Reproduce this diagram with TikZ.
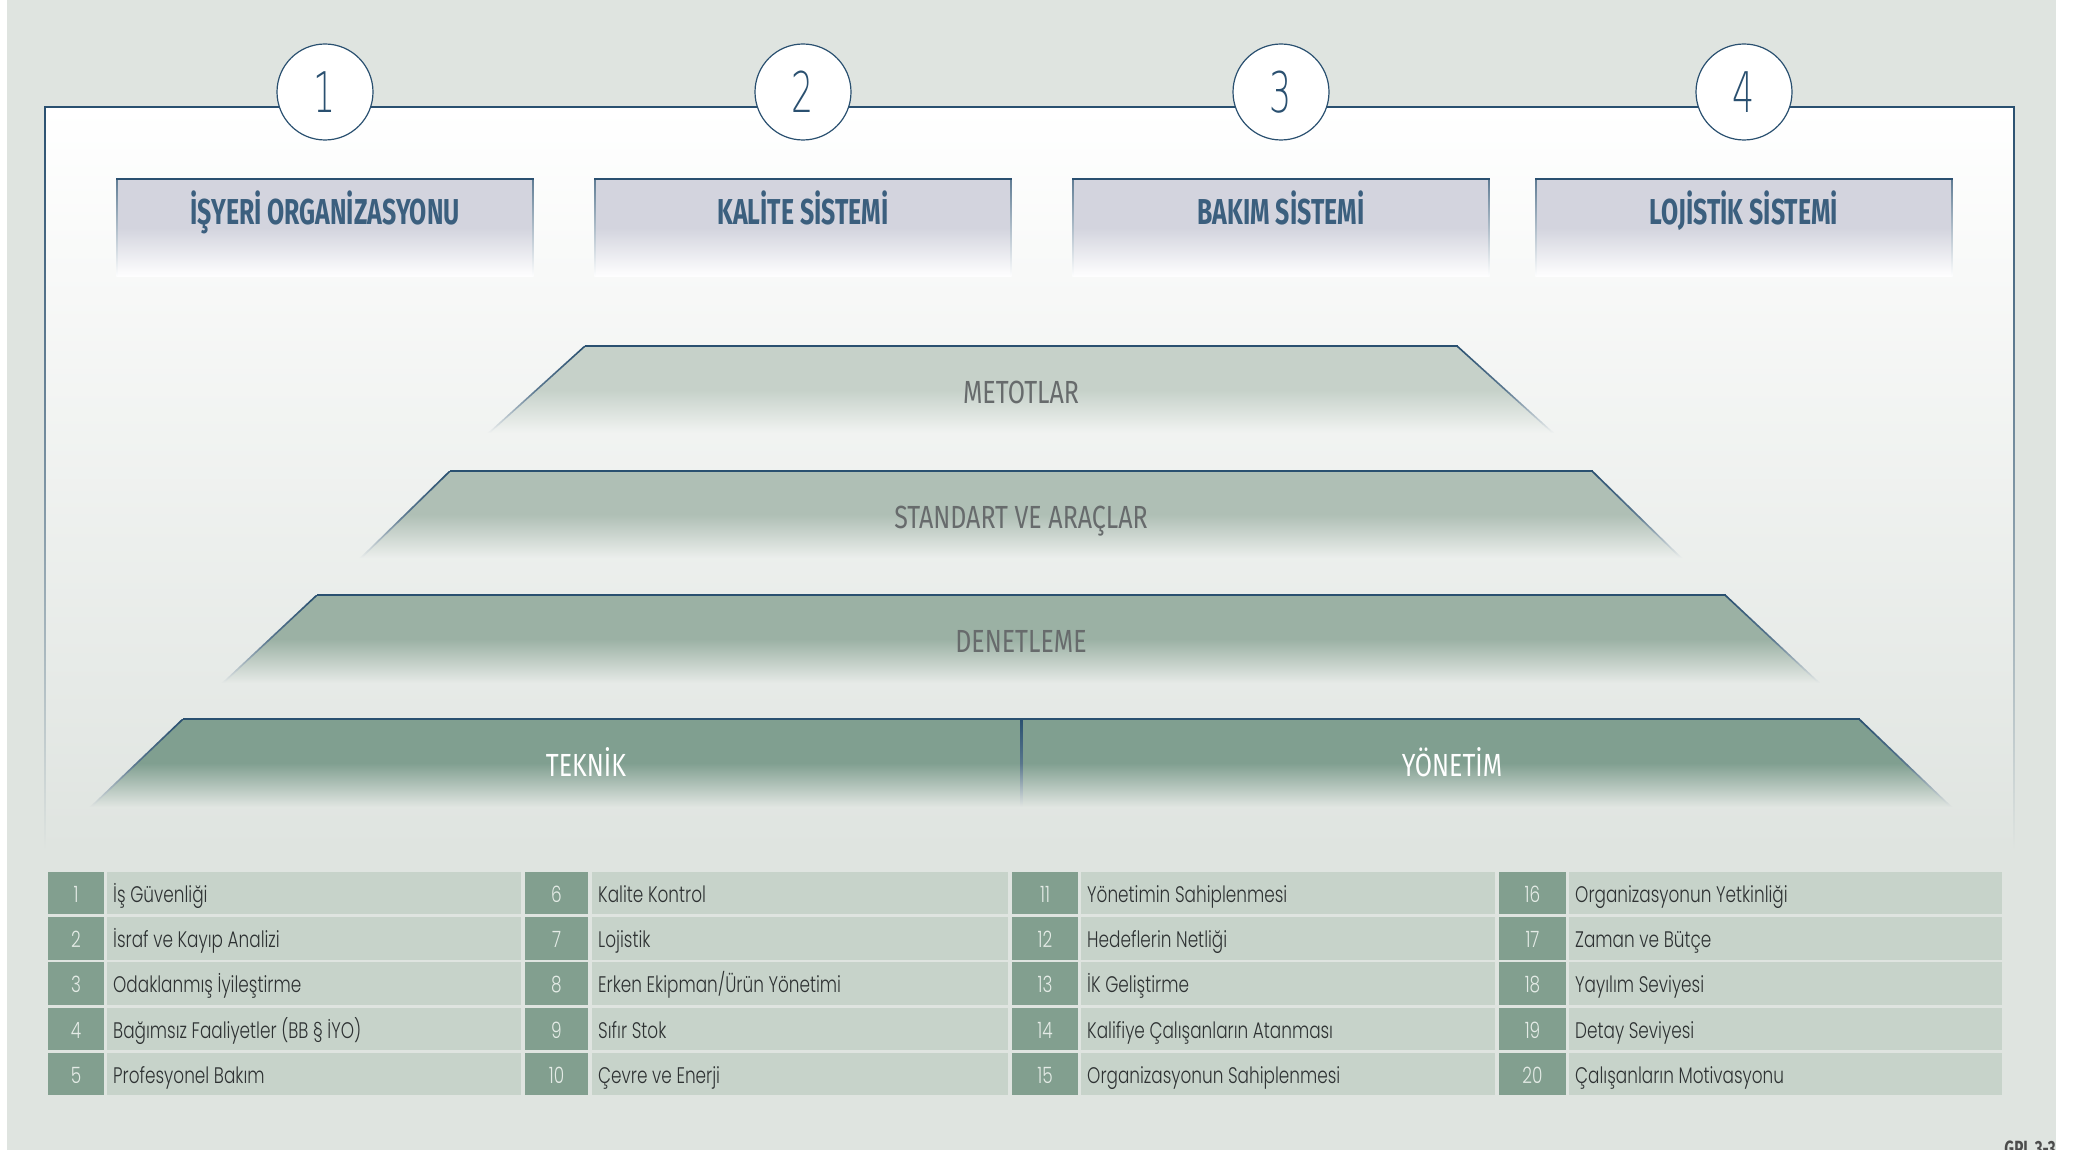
\documentclass[tikz,border=0pt]{standalone}
\usepackage{fontspec}
\setmainfont{Poppins}
\newfontfamily\hdrfont[FakeStretch=0.69]{Fira Sans}
\newfontfamily\pyrfont[FakeStretch=0.78]{Fira Sans}
\IfFontExistsTF{Poppins Light}
  {\newfontfamily\tblfont[FakeStretch=0.75]{Poppins Light}}
  {\newfontfamily\tblfont[FakeStretch=0.75]{Poppins}}
\IfFontExistsTF{DejaVu Sans ExtraLight}
  {\newfontfamily\numfont[FakeStretch=0.62]{DejaVu Sans ExtraLight}}
  {\newfontfamily\numfont[FakeStretch=0.62]{Poppins}}
\definecolor{bgc}{HTML}{DFE4E0}
\definecolor{dblue}{HTML}{2A5070}
\definecolor{hdrtxt}{HTML}{3B5F7E}
\definecolor{hdrfill}{HTML}{D3D4DE}
\definecolor{lvA}{HTML}{C6D1C9}
\definecolor{lvB}{HTML}{AFBFB5}
\definecolor{lvC}{HTML}{9BB1A4}
\definecolor{lvD}{HTML}{809F90}
\definecolor{numcell}{HTML}{829F8F}
\definecolor{txtcell}{HTML}{C7D3CA}
\definecolor{pyrtxt}{HTML}{676B6C}
\definecolor{tbltxt}{HTML}{2E3233}
\definecolor{tblnum}{HTML}{E4EBE6}
\newcommand\pyrlevel[5]{%
  \pgfmathsetmacro\xrt{2042-#2}\pgfmathsetmacro\xrb{2042-#4}%
  \shade[top color=#5, bottom color=botc, middle color=#5] (#2,#1) -- (\xrt,#1) -- (\xrb,#3) -- (#4,#3) -- cycle;
  \shade[top color=dblue, bottom color=botc, middle color=dblue!75!botc] (#2-1.2,#1) -- (#2+1.2,#1) -- (#4+1.2,#3) -- (#4-1.2,#3) -- cycle;
  \shade[top color=dblue, bottom color=botc, middle color=dblue!75!botc] (\xrt-1.2,#1) -- (\xrt+1.2,#1) -- (\xrb+1.2,#3) -- (\xrb-1.2,#3) -- cycle;
  \draw[dblue, line width=2] (#2-0.5,#1) -- (\xrt+0.5,#1);
}
\begin{document}
\begin{tikzpicture}[x=1pt,y=-1pt,
  hdr/.style={font=\hdrfont\bfseries\fontsize{36}{40}\selectfont, text=hdrtxt, anchor=base, inner sep=0pt},
  pyr/.style={font=\pyrfont\fontsize{32}{36}\selectfont, text=pyrtxt, anchor=base, inner sep=0pt},
  pyrw/.style={pyr, text=white},
  circ/.style={circle, draw=dblue, fill=white, line width=1.2pt, minimum size=96pt, inner sep=0pt, font=\numfont\fontsize{56}{60}\selectfont, text=dblue},
  tnum/.style={font=\tblfont\fontsize{22.5}{24}\selectfont, text=tblnum, anchor=base, inner sep=0pt},
  ttxt/.style={font=\tblfont\fontsize{22.5}{24}\selectfont, text=tbltxt, anchor=base west, inner sep=0pt},
  code/.style={font=\hdrfont\bfseries\fontsize{22}{24}\selectfont, text=black!70, anchor=base east, inner sep=0pt}]
\useasboundingbox (0,0) rectangle (2078,1150);
% background
\fill[white] (0,0) rectangle (2078,1150);
\fill[bgc] (7,0) rectangle (2056,1150);
% frame
\shade[top color=white, bottom color=bgc] (45,107) rectangle (2014,850);
\shade[top color=dblue, bottom color=bgc, middle color=dblue!55!bgc] (44.2,107) rectangle (45.8,850);
\shade[top color=dblue, bottom color=bgc, middle color=dblue!55!bgc] (2013.2,107) rectangle (2014.8,850);
\draw[dblue, line width=1.6pt] (44.2,107) -- (2014.8,107);
% circles and header boxes
\foreach \i/\cx/\lab in {1/325/{İŞYERİ ORGANİZASYONU}, 2/803/{KALİTE SİSTEMİ}, 3/1281/{BAKIM SİSTEMİ}, 4/1744/{LOJİSTİK SİSTEMİ}}{
  \node[circ] (c\i) at (\cx,92) {\i};
  \shade[top color=hdrfill, bottom color=white, middle color=hdrfill] (\cx-208,179) rectangle (\cx+208,277);
  \shade[top color=dblue!75!white, bottom color=white] (\cx-208.7,179) rectangle (\cx-207.3,277);
  \shade[top color=dblue!75!white, bottom color=white] (\cx+207.3,179) rectangle (\cx+208.7,277);
  \draw[dblue, line width=1.5pt] (\cx-208.7,179) -- (\cx+208.7,179);
  \node[hdr] (h\i) at (\cx,225) {\lab};
}
% pyramid
\colorlet{botc}{bgc!44!white}
\pyrlevel{346}{585}{433}{489}{lvA}
\colorlet{botc}{bgc!61!white}
\pyrlevel{471}{450}{558}{361}{lvB}
\colorlet{botc}{bgc!78!white}
\pyrlevel{595}{317}{683}{223}{lvC}
\colorlet{botc}{bgc!94!white}
\pyrlevel{719}{183}{807}{91}{lvD}
\shade[top color=dblue, bottom color=botc, middle color=dblue!75!botc] (1020,719) rectangle (1022.4,807);
\node[pyr] (p1) at (1021,403) {METOTLAR};
\node[pyr] (p2) at (1021,528) {STANDART VE ARAÇLAR};
\node[pyr] (p3) at (1021,652) {DENETLEME};
\node[pyrw] (p4a) at (586,776) {TEKNİK};
\node[pyrw] (p4b) at (1452,776) {YÖNETİM};
% table
\foreach \n/\txt in {1/{İş Güvenliği},2/{İsraf ve Kayıp Analizi},3/{Odaklanmış İyileştirme},4/{Bağımsız Faaliyetler (BB § İYO)},5/{Profesyonel Bakım},
  6/{Kalite Kontrol},7/{Lojistik},8/{Erken Ekipman/Ürün Yönetimi},9/{Sıfır Stok},10/{Çevre ve Enerji},
  11/{Yönetimin Sahiplenmesi},12/{Hedeflerin Netliği},13/{İK Geliştirme},14/{Kalifiye Çalışanların Atanması},15/{Organizasyonun Sahiplenmesi},
  16/{Organizasyonun Yetkinliği},17/{Zaman ve Bütçe},18/{Yayılım Seviyesi},19/{Detay Seviyesi},20/{Çalışanların Motivasyonu}}{
  \pgfmathtruncatemacro\g{int((\n-1)/5)}
  \pgfmathtruncatemacro\r{mod(\n-1,5)}
  \pgfmathsetmacro\nxa{{48,525,1012,1499}[\g]}
  \pgfmathsetmacro\nxb{{104,588,1078,1566}[\g]}
  \pgfmathsetmacro\txa{{107,592,1081,1569}[\g]}
  \pgfmathsetmacro\txb{{521,1008,1495,2002}[\g]}
  \pgfmathsetmacro\yt{871.7+45.3*\r}
  \fill[numcell] (\nxa,\yt) rectangle (\nxb,\yt+42.5);
  \fill[txtcell] (\txa,\yt) rectangle (\txb,\yt+42.5);
  \node[tnum] (n\n) at ({(\nxa+\nxb)/2},\yt+30.5) {\n};
  \node[ttxt] (t\n) at (\txa+6,\yt+30.5) {\txt};
}
\node[code] (gpl) at (2056,1156) {GPL 3-3};
\end{tikzpicture}
\end{document}
